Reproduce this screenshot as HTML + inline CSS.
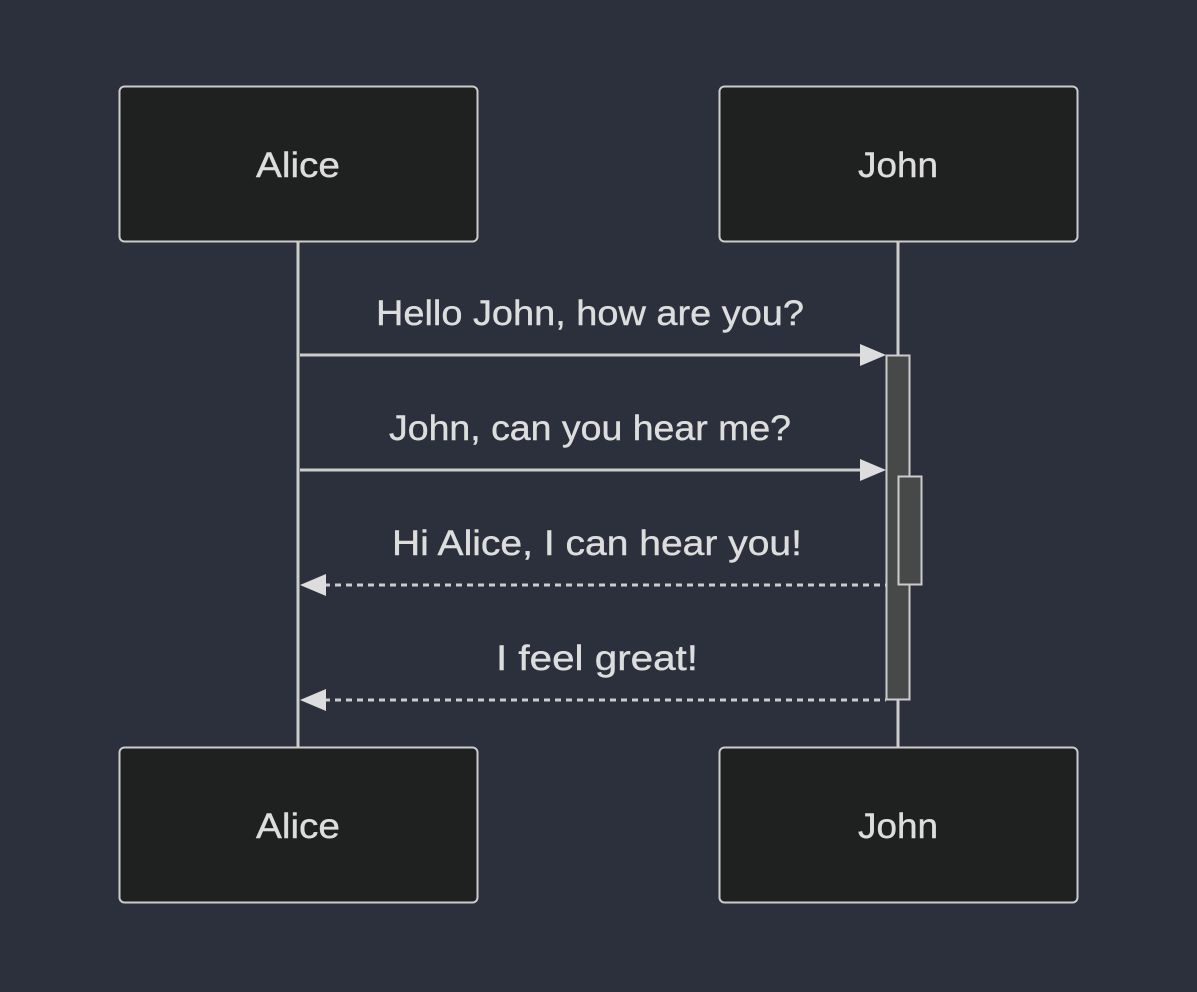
<!DOCTYPE html>
<html><head><style>html,body{margin:0;padding:0;background:#2b303c;}svg{display:block}</style></head>
<body>
<svg width="1197" height="992" viewBox="0 0 1197 992" xmlns="http://www.w3.org/2000/svg" font-family="'Liberation Sans', 'DejaVu Sans', sans-serif">
<rect width="1197" height="992" fill="#2b303c"/>
<line x1="298" y1="241" x2="298" y2="747" stroke="#cccccc" stroke-width="3"/>
<line x1="898" y1="241" x2="898" y2="747" stroke="#cccccc" stroke-width="3"/>
<g fill="#1f2020" stroke="#cccccc" stroke-width="2">
<rect x="119.5" y="86.5" width="358" height="155" rx="5"/>
<rect x="719.5" y="86.5" width="358" height="155" rx="5"/>
<rect x="119.5" y="747.5" width="358" height="155" rx="5"/>
<rect x="719.5" y="747.5" width="358" height="155" rx="5"/>
</g>
<g fill="#474949" stroke="#cccccc" stroke-width="2">
<rect x="886.5" y="355.5" width="23" height="344"/>
<rect x="898.5" y="476.5" width="23" height="108"/>
</g>
<g stroke="#cccccc" stroke-width="3">
<line x1="300" y1="355" x2="862" y2="355"/>
<line x1="300" y1="470" x2="862" y2="470"/>
<line x1="324" y1="585" x2="886" y2="585" stroke-dasharray="6,5"/>
<line x1="324" y1="700" x2="886" y2="700" stroke-dasharray="6,5"/>
</g>
<g fill="#dddddd">
<polygon points="860,344 886,355 860,366"/>
<polygon points="860,459 886,470 860,481"/>
<polygon points="326,574 300,585 326,596"/>
<polygon points="326,689 300,700 326,711"/>
</g>
<g fill="#dddddd" font-size="35" text-anchor="middle" stroke="#dddddd" stroke-width="0.4">
<text x="298" y="177" textLength="84" lengthAdjust="spacingAndGlyphs">Alice</text>
<text x="898" y="177" textLength="80" lengthAdjust="spacingAndGlyphs">John</text>
<text x="298" y="838" textLength="84" lengthAdjust="spacingAndGlyphs">Alice</text>
<text x="898" y="838" textLength="80" lengthAdjust="spacingAndGlyphs">John</text>
<text x="590" y="325" textLength="428" lengthAdjust="spacingAndGlyphs">Hello John, how are you?</text>
<text x="590" y="440" textLength="402" lengthAdjust="spacingAndGlyphs">John, can you hear me?</text>
<text x="597" y="555" textLength="410" lengthAdjust="spacingAndGlyphs">Hi Alice, I can hear you!</text>
<text x="597" y="670" textLength="202" lengthAdjust="spacingAndGlyphs">I feel great!</text>
</g>
</svg>
</body></html>
